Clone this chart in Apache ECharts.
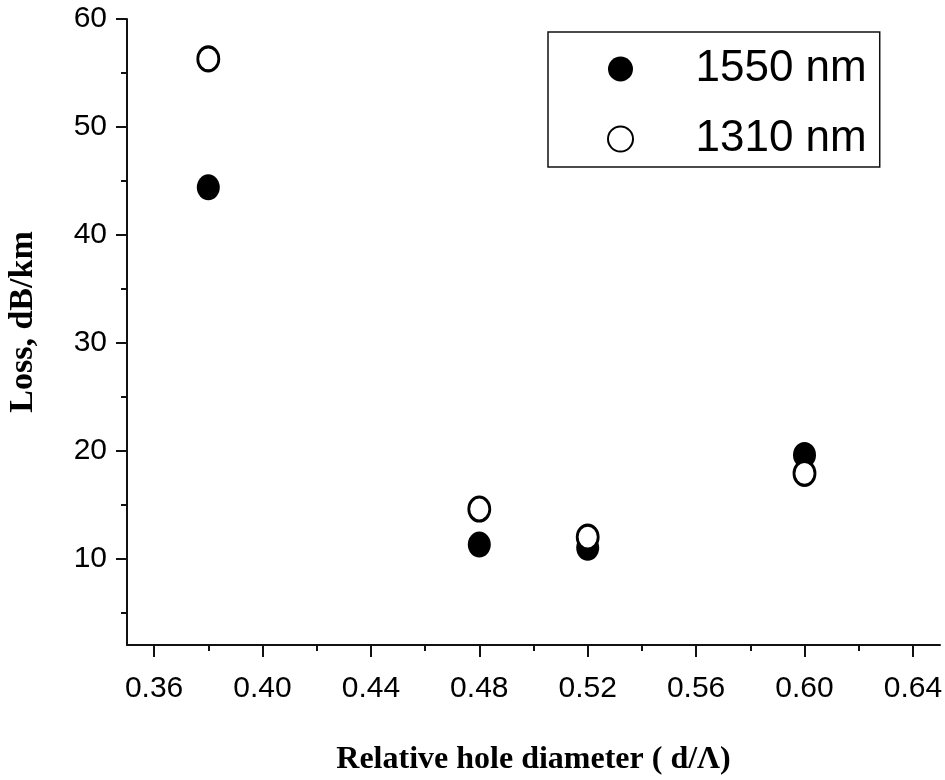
<!DOCTYPE html>
<html>
<head>
<meta charset="utf-8">
<script src="https://cdn.jsdelivr.net/npm/echarts@6/dist/echarts.min.js"></script>
<style>
  html, body { margin: 0; padding: 0; background: #fff; }
  #chart { width: 945px; height: 780px; }
</style>
</head>
<body>
<div id="chart"></div>
<script>
// data
const diameters = [0.38, 0.48, 0.52, 0.60];
const loss1550 = [44.4, 11.3, 11.0, 19.6];
const loss1310 = [56.3, 14.6, 12.0, 17.9];

const xMajor = [0.36, 0.40, 0.44, 0.48, 0.52, 0.56, 0.60, 0.64];
const xMinor = [0.38, 0.42, 0.46, 0.50, 0.54, 0.58, 0.62];
const yMajor = [10, 20, 30, 40, 50, 60];
const yMinor = [5, 15, 25, 35, 45, 55];

const chart = echarts.init(document.getElementById('chart'));

const labelFont = { fontFamily: 'Liberation Sans', fontSize: 30, color: '#000' };
const titleFont = { fontFamily: 'Liberation Serif', fontWeight: 'bold', fontSize: 32, color: '#000' };
const axisLine = { show: true, lineStyle: { color: '#111', width: 2 } };

const option = {
  animation: false,
  backgroundColor: '#fff',
  grid: { left: 127, right: 5, top: 19, bottom: 135, outerBoundsMode: 'none' },
  legend: {
    orient: 'vertical',
    left: 548,
    top: 32,
    padding: [12, 13, 3, 59],
    itemWidth: 140,
    itemHeight: 25,
    itemGap: 20,
    borderColor: '#111',
    borderWidth: 1.5,
    textStyle: { fontFamily: 'Liberation Sans', fontSize: 44, lineHeight: 50, color: '#000' },
    data: ['1550 nm', '1310 nm']
  },
  xAxis: [
    {
      type: 'value', min: 0.35, max: 0.65, position: 'bottom',
      name: 'Relative hole diameter ( d/\u039B)', nameLocation: 'middle', nameGap: 99,
      nameTextStyle: titleFont,
      axisLine: axisLine,
      axisTick: { show: true, length: 12, customValues: xMajor, lineStyle: { color: '#111', width: 2 } },
      axisLabel: Object.assign({ margin: 29, customValues: xMajor, formatter: v => v.toFixed(2) }, labelFont),
      splitLine: { show: false }
    },
    {
      type: 'value', min: 0.35, max: 0.65, position: 'bottom',
      axisLine: { show: false },
      axisTick: { show: true, length: 6, customValues: xMinor, lineStyle: { color: '#111', width: 2 } },
      axisLabel: { show: false },
      splitLine: { show: false }
    }
  ],
  yAxis: [
    {
      type: 'value', min: 2, max: 60, position: 'left',
      name: 'Loss, dB/km', nameLocation: 'middle', nameGap: 87,
      nameTextStyle: Object.assign({}, titleFont, { fontSize: 34, padding: [0, 0, 0, 20] }),
      axisLine: axisLine,
      axisTick: { show: true, length: 11, customValues: yMajor, lineStyle: { color: '#111', width: 2 } },
      axisLabel: Object.assign({ margin: 20, customValues: yMajor }, labelFont),
      splitLine: { show: false }
    },
    {
      type: 'value', min: 2, max: 60, position: 'left',
      axisLine: { show: false },
      axisTick: { show: true, length: 6, customValues: yMinor, lineStyle: { color: '#111', width: 2 } },
      axisLabel: { show: false },
      splitLine: { show: false }
    }
  ],
  series: [
    {
      name: '1550 nm',
      type: 'scatter',
      symbol: 'circle',
      symbolSize: [23, 26],
      itemStyle: { color: '#000', opacity: 1 },
      data: diameters.map((d, i) => [d, loss1550[i]])
    },
    {
      name: '1310 nm',
      type: 'scatter',
      symbol: 'circle',
      symbolSize: [21, 24],
      itemStyle: { color: '#fff', borderColor: '#000', borderWidth: 3, opacity: 1 },
      data: diameters.map((d, i) => [d, loss1310[i]])
    }
  ]
};

chart.setOption(option);
</script>
</body>
</html>
